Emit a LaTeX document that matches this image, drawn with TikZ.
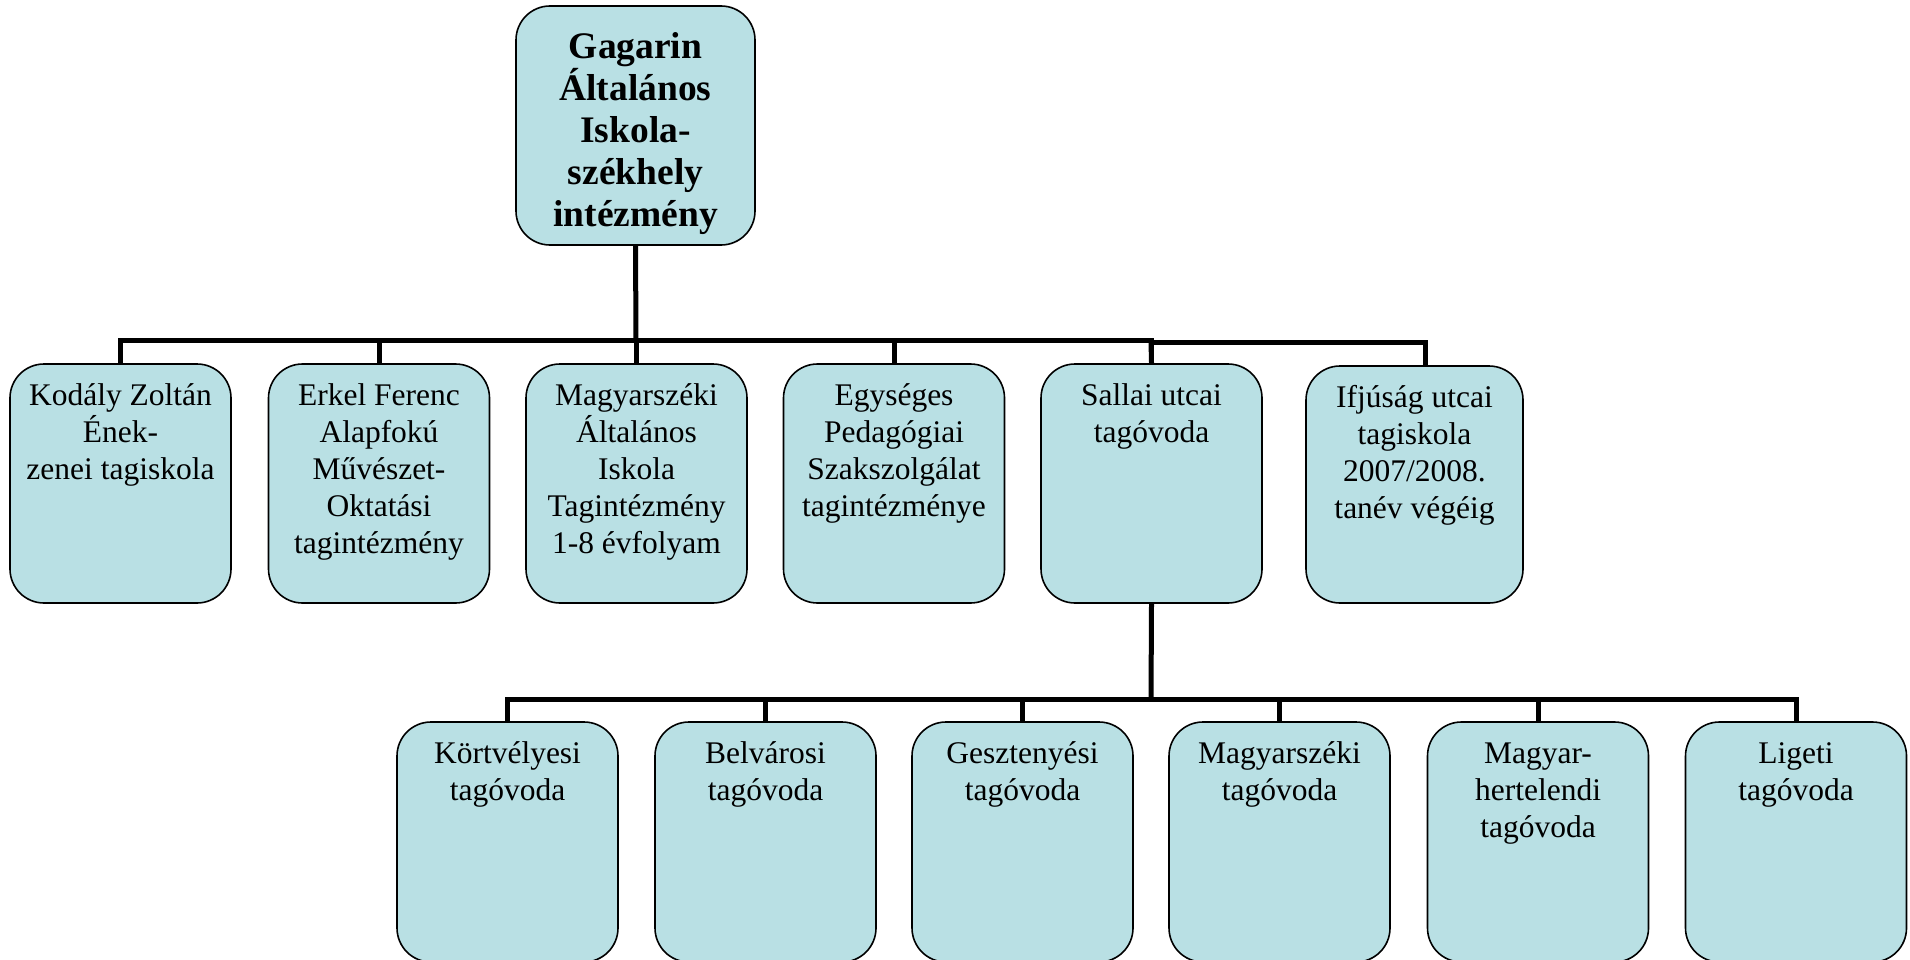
\documentclass[tikz,border=0pt]{standalone}
\usepackage{fontspec}
\setmainfont{Liberation Serif}
\definecolor{boxfill}{RGB}{185,224,228}
\newcommand{\orgtext}[3]{\parbox[c][#2][t]{#1}{\centering\rule{0pt}{41pt}#3\par}}
\newcommand{\toptext}[3]{\parbox[c][#2][t]{#1}{\centering\rule{0pt}{53pt}#3\par}}
\tikzset{
  orgbox/.style={draw=black, line width=1.6pt, fill=boxfill, rounded corners=34pt, inner sep=0pt,
    font=\fontsize{31.5}{37}\selectfont},
  topbox/.style={orgbox, font=\fontsize{37.5}{41.8}\selectfont\bfseries},
  conn/.style={draw=black, line width=5pt, line join=miter},
}
\begin{document}
\begin{tikzpicture}[x=1pt,y=-1pt]
\useasboundingbox (0,0) rectangle (1910,960);
\clip (0,0) rectangle (1910,960);
% top
\node[topbox] (top) at (635.5,125.5) {\toptext{239pt}{239pt}{Gagarin\\Általános\\Iskola-\\székhely\\intézmény}};
% row 1
\node[orgbox] (k1) at (120.5,483.5) {\orgtext{221pt}{239pt}{Kodály Zoltán\\Ének-\\zenei tagiskola}};
\node[orgbox] (k2) at (379,483.5) {\orgtext{221pt}{239pt}{Erkel Ferenc\\Alapfokú\\Művészet-\\Oktatási\\tagintézmény}};
\node[orgbox] (k3) at (636.5,483.5) {\orgtext{221pt}{239pt}{Magyarszéki\\Általános\\Iskola\\Tagintézmény\\1-8 évfolyam}};
\node[orgbox] (k4) at (894,483.5) {\orgtext{221pt}{239pt}{Egységes\\Pedagógiai\\Szakszolgálat\\tagintézménye}};
\node[orgbox] (k5) at (1151.5,483.5) {\orgtext{221pt}{239pt}{Sallai utcai\\tagóvoda}};
\node[orgbox] (k6) at (1414.5,484.5) {\orgtext{217pt}{237pt}{Ifjúság utcai\\tagiskola\\2007/2008.\\tanév végéig}};
% row 2
\node[orgbox] (g1) at (507.5,842) {\orgtext{221pt}{240pt}{Körtvélyesi\\tagóvoda}};
\node[orgbox] (g2) at (765.5,842) {\orgtext{221pt}{240pt}{Belvárosi\\tagóvoda}};
\node[orgbox] (g3) at (1022.5,842) {\orgtext{221pt}{240pt}{Gesztenyési\\tagóvoda}};
\node[orgbox] (g4) at (1279.5,842) {\orgtext{221pt}{240pt}{Magyarszéki\\tagóvoda}};
\node[orgbox] (g5) at (1538,842) {\orgtext{221pt}{240pt}{Magyar-\\hertelendi\\tagóvoda}};
\node[orgbox] (g6) at (1796,842) {\orgtext{221pt}{240pt}{Ligeti\\tagóvoda}};
% connectors level 1
\coordinate (b1) at (636,340);
\coordinate (b1r) at (1151,342);
\draw[conn] (top.south) -- (b1);
\draw[conn] (k1.north) |- (b1);
\draw[conn] (k2.north) |- (b1);
\draw[conn] (k3.north) -- (k3.north |- b1);
\draw[conn] (k4.north) |- (b1);
\draw[conn] (k5.north) |- (b1);
\draw[conn] ([xshift=11pt]k6.north) |- (b1r);
\draw[conn] (k5.north) -- (b1r);
% connectors level 2
\coordinate (b2) at (1151,699);
\draw[conn] (k5.south) -- (b2);
\draw[conn] (g1.north) |- (b2);
\draw[conn] (g2.north) |- (b2);
\draw[conn] (g3.north) |- (b2);
\draw[conn] (g4.north) |- (b2);
\draw[conn] (g5.north) |- (b2);
\draw[conn] (g6.north) |- (b2);
\end{tikzpicture}
\end{document}
